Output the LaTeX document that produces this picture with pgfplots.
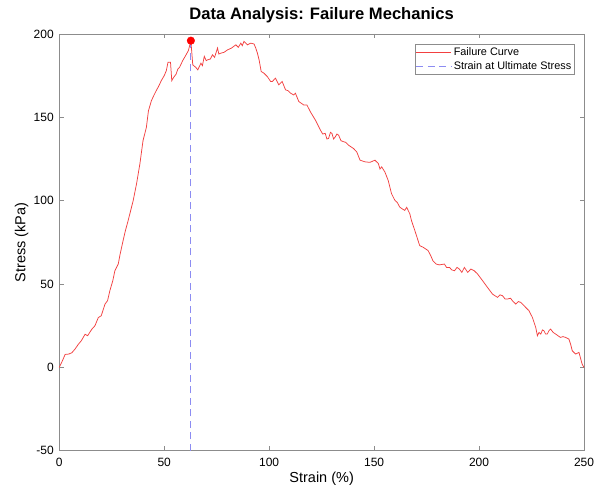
\documentclass[border=0pt]{standalone}
\usepackage{pgfplots}
\pgfplotsset{compat=1.18}
\usepackage{fontspec}
\setmainfont{Liberation Sans}
\definecolor{curvered}{rgb}{0.95,0.25,0.25}
\definecolor{dashblue}{rgb}{0.55,0.55,0.95}
\definecolor{axgray}{rgb}{0.55,0.55,0.55}
\pgfplotstableread{
x y
0 0
1.5 4
2.8 7.8
4.5 8
6 8.8
7.5 11
9.1 13.9
10.5 16
12.3 19.9
13.5 19
15.5 22.9
17 25
18.6 29.9
20 31
21.8 38
23 40
24.1 46
25.5 52
26.5 58
28.1 62
29 68
30.4 76
31.5 82
32.8 88
34 94
35.2 100
36.8 110
38.4 122
39.9 136
41.5 144
42.5 154
43.9 160
45 163
46.2 166
47.5 169
48.6 172
50 175
51 178
51.8 183
53 183
53.6 172
54.5 174
55.7 176
56.5 179
57.3 180
58.8 184
60.4 187.5
61.5 190
62.7 196
63.6 181.5
65 180
66 178.5
67.5 182.5
68.2 181
69.1 186.6
70 184
70.7 184.5
72 185
73 187.5
74 186
75.4 191.6
76 188
77 188.5
78.5 189
80.2 190.5
82 191.5
84.1 193.5
85.3 192
86.5 194.5
87.2 193
88 195.6
89.6 193.5
91.2 194.5
92.8 194
93.6 191.6
94.4 188.5
95.2 184.5
96.2 177.5
97.5 176.5
99.1 174.5
100.7 171.5
101.5 171.5
103 173.5
104.6 169.5
106.2 171.5
107.8 166.5
109 166
110.2 164.5
111.7 163.4
112.5 164.5
114.1 159.5
116.5 157.4
118 157.4
119.6 153.4
122 148.4
124.4 142.4
125.5 140
126.7 140.4
127.5 137
128.3 137.3
129.2 141
129.9 140.4
130.7 137
131.5 138.3
132.3 140
133.1 139.3
134.2 136
135.4 135.4
136.5 135
137.8 133.3
140.2 131.3
141.7 129.3
143.3 124.3
145.7 123.3
148 123
150.4 124.3
152 122.3
152.8 119
153.6 120.3
155.1 117.3
156.7 112.2
158.3 104.2
159.9 100.2
161 99
162.2 96.2
163.5 95
164.6 94.2
165.5 96
167 92.2
167.8 88.1
169.4 82.1
171.7 73.1
173.3 72.1
175.7 70.1
177 67
178 64
179.6 62
181 61.5
183.5 62
184.5 60
185.9 60
187 58.5
188.3 58
189.5 60
190.6 59
191.8 57
193 60
194.6 57
196.1 59
197.7 58
199.3 56
201.7 52
204 48
206.4 44
208.8 42
210 43.5
211.2 43
212.4 41
213.5 41
215 41.5
215.9 40
217.5 38
218.7 39.5
219.9 39
222.2 36
223.8 34
225.4 30
227 24
227.8 19
228.6 21
229.4 20
230.2 22.5
230.9 22
231.7 20
232.5 20
233.3 22
234.1 23
235.3 21
236.5 20
237.6 19
238.8 18
240 18.5
241.2 18
242.8 17
243.6 14
244.4 10
245.2 9
246 8
247.6 9
249.1 2
250 0
}\curve
\begin{document}
\begin{tikzpicture}
\useasboundingbox (-59.3bp,-36.3bp) rectangle (535bp,451bp);
\begin{axis}[
  at={(0,0)}, anchor=south west,
  scale only axis,
  width=525bp, height=417bp,
  xmin=0, xmax=250, ymin=-50, ymax=200,
  xtick={0,50,...,250}, ytick={-50,0,...,200},
  xtick pos=both, ytick pos=both,
  tick align=inside,
  major tick length=4.5bp,
  axis line style={axgray, line width=0.7bp},
  tick style={axgray, line width=0.7bp},
  /pgf/number format/assume math mode=true,
  tick label style={font=\fontsize{12bp}{14bp}\selectfont},
  xticklabel style={yshift=-4bp},
  yticklabel style={xshift=-2bp},
  title={Data Analysis: Failure Mechanics},
  title style={font=\fontsize{16.6bp}{18bp}\selectfont\bfseries,
    at={(axis description cs:0.5,1.030)}, anchor=center},
  xlabel={Strain (\%)},
  ylabel={Stress (kPa)},
  every axis x label/.style={at={(axis description cs:0.5,-0.066)}, anchor=center,
    font=\fontsize{14.5bp}{16bp}\selectfont},
  every axis y label/.style={at={(axis description cs:-0.0716,0.5)}, anchor=center,
    rotate=90, font=\fontsize{14.5bp}{16bp}\selectfont},
  legend style={at={(axis description cs:0.982,0.977)}, anchor=north east,
    font=\fontsize{10.9bp}{12bp}\selectfont, draw=axgray, line width=0.7bp,
    inner xsep=1bp, inner ysep=2bp, row sep=0bp},
  legend cell align=left,
  legend image code/.code={\draw[#1] (0bp,0bp) -- (35bp,0bp);},
  clip=false,
]
\addplot[draw=curvered, color=curvered, line width=0.75bp] table[x=x,y=y] {\curve};
\addlegendentry{Failure Curve}
\addplot[draw=dashblue, color=dashblue, line width=0.8bp, dash pattern=on 7bp off 4.5bp] coordinates {(62.7,-50) (62.7,196)};
\addlegendentry{Strain at Ultimate Stress}
\addplot[only marks, mark=*, mark size=3.8bp, red, forget plot] coordinates {(62.7,196)};
\end{axis}
\end{tikzpicture}
\end{document}
